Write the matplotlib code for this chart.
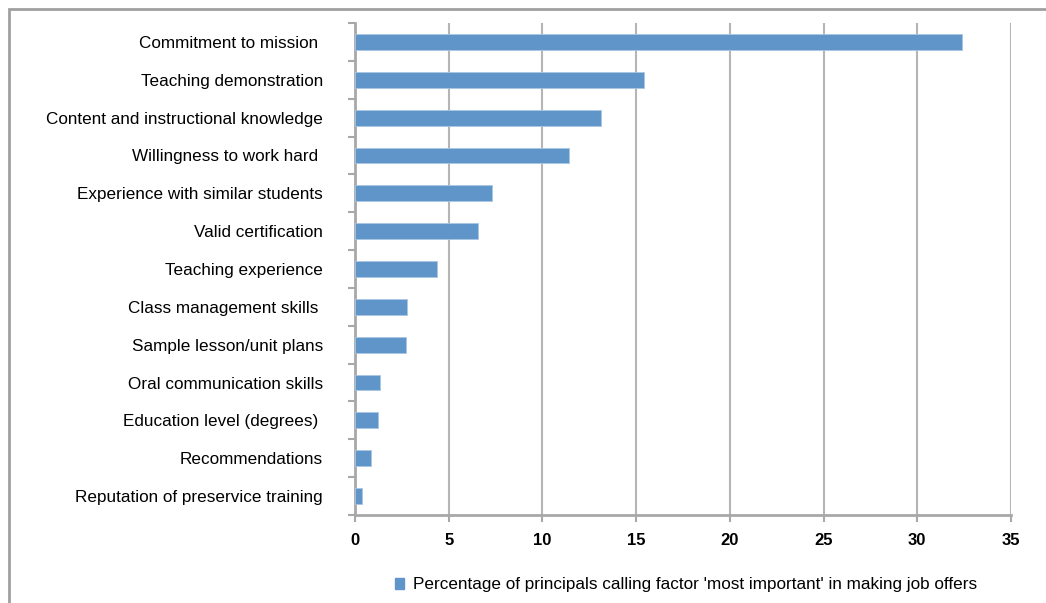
import matplotlib
matplotlib.use('Agg')
import matplotlib.pyplot as plt
from matplotlib.patches import Rectangle, Patch

factors = ['Commitment to mission ', 'Teaching demonstration', 'Content and instructional knowledge',
           'Willingness to work hard ', 'Experience with similar students', 'Valid certification',
           'Teaching experience', 'Class management skills ', 'Sample lesson/unit plans',
           'Oral communication skills', 'Education level (degrees) ', 'Recommendations',
           'Reputation of preservice training']
pct = [32.4, 15.4, 13.15, 11.4, 7.3, 6.55, 4.4, 2.75, 2.7, 1.35, 1.25, 0.85, 0.4]
xticks = [0, 5, 10, 15, 20, 25, 30, 35]
legend_label = "Percentage of principals calling factor 'most important' in making job offers"

plt.rcParams['font.family'] = ['Liberation Sans', 'DejaVu Sans']
bar_c = '#5f95c9'
grey = '#a8a8a8'

fig = plt.figure(figsize=(10.46, 6.03), dpi=100)
# outer chart frame (runs off right and bottom edge)
fig.patches.append(Rectangle((9/1046, -0.05), 1.1, 1 - 9/603 + 0.05, transform=fig.transFigure,
                             fill=False, edgecolor='#a0a0a0', lw=2))

ax = fig.add_axes([355/1046, 1 - 515/603, 656/1046, 492/603])
ypos = list(range(len(factors)))
ax.barh(ypos, pct, height=0.42, color=bar_c, edgecolor='#a9c6e4', lw=0.6, zorder=3)
ax.set_ylim(len(factors) - 0.5, -0.5)
ax.set_xlim(0, 35)
ax.set_xticks(xticks)
ax.set_xticklabels([str(t) for t in xticks], fontsize=12, fontweight='bold')
ax.set_yticks([y - 0.5 for y in ypos] + [len(factors) - 0.5])
ax.set_yticklabels([])
ax.set_yticks(ypos, minor=True)
ax.set_yticklabels(factors, minor=True, fontsize=12.3)
ax.tick_params(axis='y', which='minor', length=0, pad=23)
ax.tick_params(axis='y', which='major', length=5, width=1.5, color=grey)
ax.tick_params(axis='x', length=5, width=1.5, color=grey, pad=8)
ax.grid(axis='x', color='#b5b5b5', lw=1.5, zorder=0)
for s in ['top', 'right']:
    ax.spines[s].set_visible(False)
for s in ['left', 'bottom']:
    ax.spines[s].set_color(grey)
    ax.spines[s].set_linewidth(2)

fig.legend(handles=[Patch(color=bar_c, label=legend_label)], loc='center',
           bbox_to_anchor=(686/1046, 1 - 585/603), frameon=False, fontsize=12.3,
           handlelength=0.55, handleheight=0.55, handletextpad=0.5)

plt.savefig('out.png', dpi=100)
